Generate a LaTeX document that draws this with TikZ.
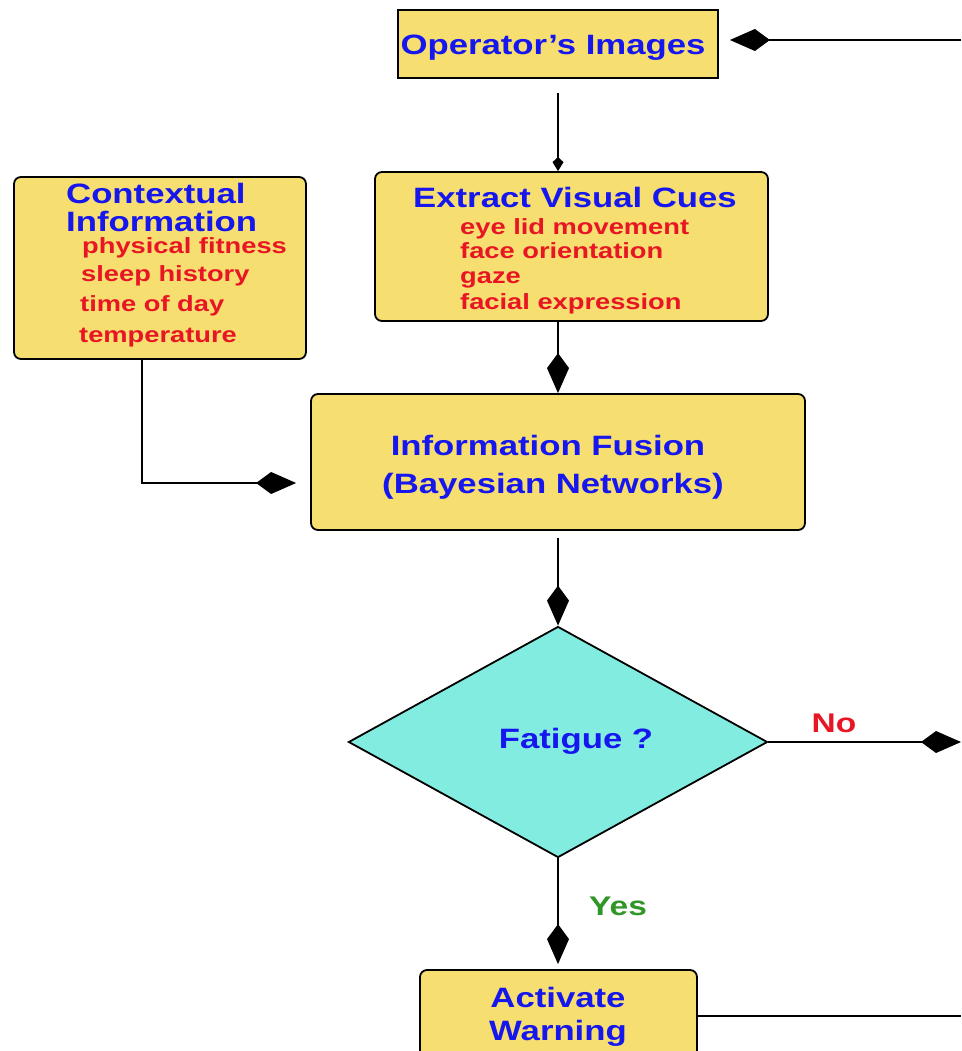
\documentclass[tikz,border=0pt]{standalone}
\usepackage{fontspec}
\newfontfamily\diagfont{Liberation Sans}[FakeStretch=1.24]
\usetikzlibrary{arrows.meta,shapes.geometric}
\definecolor{boxyellow}{RGB}{246,222,112}
\definecolor{decisioncyan}{RGB}{131,236,224}
\definecolor{titleblue}{RGB}{22,22,238}
\definecolor{itemred}{RGB}{232,22,36}
\definecolor{yesgreen}{RGB}{48,150,40}
\begin{document}
\begin{tikzpicture}[x=1pt,y=-1pt,
	box/.style={draw, line width=1.8pt, fill=boxyellow, rounded corners=7pt, inner sep=0},
	title/.style={text=titleblue, inner sep=0, font=\diagfont\bfseries\fontsize{28}{28}\selectfont},
	item/.style={text=itemred, inner sep=0, anchor=base west, font=\diagfont\bfseries\fontsize{22}{22}\selectfont},
	conn/.style={line width=1.8pt},
	blob/.style={-{Kite[length=40pt,width=22pt,inset=15pt]}},
	tiny/.style={-{Kite[length=14pt,width=11pt,inset=5pt]}}]
	\useasboundingbox (0,0) rectangle (961,1051);
	\clip (0,0) rectangle (961,1051);
	\node[box, rounded corners=0pt, minimum width=320pt, minimum height=68pt] (opimg) at (558,44) {};
	\node[title, anchor=base] (opimgtxt) at (553,55) {Operator’s Images};
	\node[box, minimum width=393pt, minimum height=149pt] (extract) at (571.5,246.5) {};
	\node[title, anchor=base] (extracttxt) at (575,207) {Extract Visual Cues};
	\node[item] (cue1) at (460,234) {eye lid movement};
	\node[item] (cue2) at (460,258) {face orientation};
	\node[item] (cue3) at (460,283) {gaze};
	\node[item] (cue4) at (460,309) {facial expression};
	\node[box, minimum width=292pt, minimum height=182pt] (context) at (160,268) {};
	\node[title, anchor=base west] (ctxtxt1) at (66,203) {Contextual};
	\node[title, anchor=base west] (ctxtxt2) at (66,231) {Information};
	\node[item] (ctx1) at (82,253) {physical fitness};
	\node[item] (ctx2) at (81,281) {sleep history};
	\node[item] (ctx3) at (80,311) {time of day};
	\node[item] (ctx4) at (79,342) {temperature};
	\node[box, minimum width=494pt, minimum height=136pt] (fusion) at (558,462) {};
	\node[title, anchor=base] (fusiontxt1) at (548,455) {Information Fusion};
	\node[title, anchor=base] (fusiontxt2) at (553,493) {(Bayesian Networks)};
	\node[diamond, draw, line width=1.8pt, fill=decisioncyan, minimum width=419pt, minimum height=231pt, inner sep=0] (fatigue) at (558,742) {};
	\node[title, anchor=base] (fatiguetxt) at (576,748) {Fatigue ?};
	\node[box, minimum width=277pt, minimum height=110pt] (warn) at (558.5,1025) {};
	\node[title, anchor=base] (warntxt1) at (558,1007) {Activate};
	\node[title, anchor=base] (warntxt2) at (558,1040) {Warning};
	\coordinate (fbtop) at (961,40);
	\coordinate (ctxbend) at (142,483);
	\coordinate (noend) at (961,742);
	\coordinate (fbwarn) at (961,1016);
	\draw[conn, blob, shorten >=11pt] (fbtop) -- (fbtop -| opimg.east);
	\draw[conn, tiny, shorten <=14pt] (opimg.south) -- (opimg.south |- extract.north);
	\draw[conn, blob] (fusion.north |- extract.south) -- (fusion.north);
	\draw[conn, blob, shorten >=14pt] (context.south -| ctxbend) -- (ctxbend) -- (ctxbend -| fusion.west);
	\draw[conn, blob, shorten <=7pt] (fusion.south) -- (fatigue.north);
	\draw[conn, blob] (fatigue.east) -- (noend) node[pos=0.34, above=8pt, text=itemred, inner sep=0, font=\diagfont\bfseries\fontsize{27}{27}\selectfont] (notxt) {No};
	\draw[conn, blob, shorten >=5pt] (fatigue.south) -- (fatigue.south |- warn.north);
	\node[anchor=base, text=yesgreen, inner sep=0, font=\diagfont\bfseries\fontsize{27}{27}\selectfont] (yestxt) at (618,915) {Yes};
	\draw[conn] (warn.east |- fbwarn) -- (fbwarn);
\end{tikzpicture}
\end{document}
